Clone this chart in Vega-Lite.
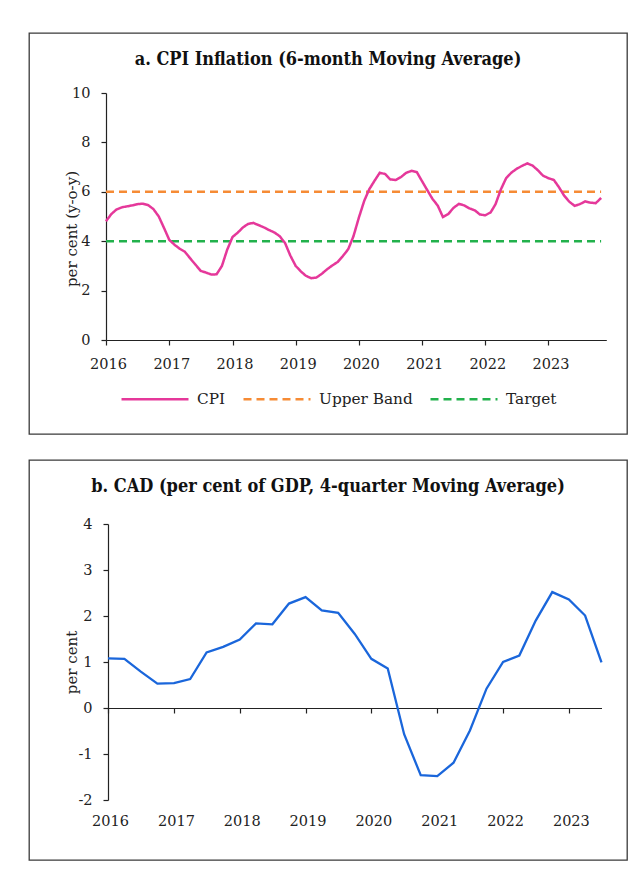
{
  "$schema": "https://vega.github.io/schema/vega-lite/v6.json",
  "padding": {"left": 28, "top": 32, "right": 7, "bottom": 19},
  "autosize": {"type": "pad"},
  "spacing": 24,
  "config": {
    "font": "DejaVu Serif",
    "view": {"stroke": "#3a3a3a", "strokeWidth": 1.3},
    "axis": {
      "grid": false,
      "labelFont": "DejaVu Serif",
      "labelFontSize": 14.5,
      "labelColor": "#222",
      "domainColor": "#222",
      "tickColor": "#222",
      "titleFont": "DejaVu Serif",
      "titleFontWeight": "normal",
      "titleFontSize": 15,
      "titleColor": "#222",
      "tickSize": 5,
      "domainWidth": 1.2,
      "tickWidth": 1.2
    },
    "title": {"font": "DejaVu Serif Condensed", "fontWeight": "bold", "fontSize": 18, "color": "#111"}
  },
  "resolve": {"scale": {"x": "independent", "y": "independent"}},
  "vconcat": [
    {
      "width": 598,
      "height": 401,
      "title": {"text": "a. CPI Inflation (6-month Moving Average)", "offset": -36},
      "layer": [
        {
          "data": {"values": [
            {"date": "2016-01-01", "value": 6, "series": "Upper Band"},
            {"date": "2023-11-01", "value": 6, "series": "Upper Band"},
            {"date": "2016-01-01", "value": 4, "series": "Target"},
            {"date": "2023-11-01", "value": 4, "series": "Target"}
          ]},
          "mark": {"type": "line", "strokeWidth": 2.5},
          "encoding": {
            "x": {"field": "date", "type": "temporal",
              "scale": {"type": "utc", "domain": [{"year": 2016, "month": 1, "date": 1, "utc": true}, {"year": 2023, "month": 12, "date": 1, "utc": true}], "range": [77, 577.3], "nice": false},
              "axis": {"format": "%Y", "tickCount": {"interval": "year", "step": 1}, "offset": -94, "title": null, "labelPadding": 12, "labelOffset": 2, "labelFlush": false, "labelOverlap": false}},
            "y": {"field": "value", "type": "quantitative",
              "scale": {"domain": [0, 10], "range": [307, 60], "nice": false, "zero": false},
              "axis": {"values": [0, 2, 4, 6, 8, 10], "offset": -77, "title": "per cent (y-o-y)", "titleX": -30, "titleY": 195.5, "titleAngle": -90, "titleAlign": "center", "titleBaseline": "alphabetic", "labelPadding": 11}},
            "color": {"field": "series", "type": "nominal",
              "scale": {"domain": ["CPI", "Upper Band", "Target"], "range": ["#E5389A", "#F68B35", "#22B14C"]},
              "legend": {"orient": "none", "legendX": 91, "legendY": 331, "direction": "horizontal", "title": null, "symbolType": "stroke", "symbolSize": 4489, "symbolStrokeWidth": 2.5, "labelFont": "DejaVu Serif", "labelFontSize": 15.3, "labelColor": "#222", "labelOffset": 7, "columnPadding": 12}},
            "strokeDash": {"field": "series", "type": "nominal",
              "scale": {"domain": ["CPI", "Upper Band", "Target"], "range": [[1, 0], [8, 5], [8, 5]]},
              "legend": {"orient": "none", "legendX": 91, "legendY": 331, "direction": "horizontal", "title": null, "symbolType": "stroke", "symbolSize": 4489, "symbolStrokeWidth": 2.5, "labelFont": "DejaVu Serif", "labelFontSize": 15.3, "labelColor": "#222", "labelOffset": 7, "columnPadding": 12}}
          }
        },
        {
          "data": {"values": [
            {"date": "2016-01-01", "value": 4.81, "series": "CPI"},
            {"date": "2016-02-01", "value": 5.10, "series": "CPI"},
            {"date": "2016-03-01", "value": 5.28, "series": "CPI"},
            {"date": "2016-04-01", "value": 5.37, "series": "CPI"},
            {"date": "2016-05-01", "value": 5.41, "series": "CPI"},
            {"date": "2016-06-01", "value": 5.45, "series": "CPI"},
            {"date": "2016-07-01", "value": 5.50, "series": "CPI"},
            {"date": "2016-08-01", "value": 5.52, "series": "CPI"},
            {"date": "2016-09-01", "value": 5.46, "series": "CPI"},
            {"date": "2016-10-01", "value": 5.30, "series": "CPI"},
            {"date": "2016-11-01", "value": 5.00, "series": "CPI"},
            {"date": "2016-12-01", "value": 4.54, "series": "CPI"},
            {"date": "2017-01-01", "value": 4.05, "series": "CPI"},
            {"date": "2017-02-01", "value": 3.85, "series": "CPI"},
            {"date": "2017-03-01", "value": 3.70, "series": "CPI"},
            {"date": "2017-04-01", "value": 3.57, "series": "CPI"},
            {"date": "2017-05-01", "value": 3.31, "series": "CPI"},
            {"date": "2017-06-01", "value": 3.05, "series": "CPI"},
            {"date": "2017-07-01", "value": 2.80, "series": "CPI"},
            {"date": "2017-08-01", "value": 2.73, "series": "CPI"},
            {"date": "2017-09-01", "value": 2.65, "series": "CPI"},
            {"date": "2017-10-01", "value": 2.66, "series": "CPI"},
            {"date": "2017-11-01", "value": 3.00, "series": "CPI"},
            {"date": "2017-12-01", "value": 3.65, "series": "CPI"},
            {"date": "2018-01-01", "value": 4.17, "series": "CPI"},
            {"date": "2018-02-01", "value": 4.35, "series": "CPI"},
            {"date": "2018-03-01", "value": 4.55, "series": "CPI"},
            {"date": "2018-04-01", "value": 4.70, "series": "CPI"},
            {"date": "2018-05-01", "value": 4.74, "series": "CPI"},
            {"date": "2018-06-01", "value": 4.65, "series": "CPI"},
            {"date": "2018-07-01", "value": 4.56, "series": "CPI"},
            {"date": "2018-08-01", "value": 4.45, "series": "CPI"},
            {"date": "2018-09-01", "value": 4.35, "series": "CPI"},
            {"date": "2018-10-01", "value": 4.20, "series": "CPI"},
            {"date": "2018-11-01", "value": 3.92, "series": "CPI"},
            {"date": "2018-12-01", "value": 3.42, "series": "CPI"},
            {"date": "2019-01-01", "value": 3.00, "series": "CPI"},
            {"date": "2019-02-01", "value": 2.77, "series": "CPI"},
            {"date": "2019-03-01", "value": 2.60, "series": "CPI"},
            {"date": "2019-04-01", "value": 2.50, "series": "CPI"},
            {"date": "2019-05-01", "value": 2.53, "series": "CPI"},
            {"date": "2019-06-01", "value": 2.68, "series": "CPI"},
            {"date": "2019-07-01", "value": 2.86, "series": "CPI"},
            {"date": "2019-08-01", "value": 3.02, "series": "CPI"},
            {"date": "2019-09-01", "value": 3.16, "series": "CPI"},
            {"date": "2019-10-01", "value": 3.40, "series": "CPI"},
            {"date": "2019-11-01", "value": 3.68, "series": "CPI"},
            {"date": "2019-12-01", "value": 4.20, "series": "CPI"},
            {"date": "2020-01-01", "value": 4.95, "series": "CPI"},
            {"date": "2020-02-01", "value": 5.63, "series": "CPI"},
            {"date": "2020-03-01", "value": 6.10, "series": "CPI"},
            {"date": "2020-04-01", "value": 6.45, "series": "CPI"},
            {"date": "2020-05-01", "value": 6.77, "series": "CPI"},
            {"date": "2020-06-01", "value": 6.72, "series": "CPI"},
            {"date": "2020-07-01", "value": 6.50, "series": "CPI"},
            {"date": "2020-08-01", "value": 6.48, "series": "CPI"},
            {"date": "2020-09-01", "value": 6.60, "series": "CPI"},
            {"date": "2020-10-01", "value": 6.77, "series": "CPI"},
            {"date": "2020-11-01", "value": 6.85, "series": "CPI"},
            {"date": "2020-12-01", "value": 6.80, "series": "CPI"},
            {"date": "2021-01-01", "value": 6.42, "series": "CPI"},
            {"date": "2021-02-01", "value": 6.05, "series": "CPI"},
            {"date": "2021-03-01", "value": 5.72, "series": "CPI"},
            {"date": "2021-04-01", "value": 5.44, "series": "CPI"},
            {"date": "2021-05-01", "value": 4.98, "series": "CPI"},
            {"date": "2021-06-01", "value": 5.10, "series": "CPI"},
            {"date": "2021-07-01", "value": 5.35, "series": "CPI"},
            {"date": "2021-08-01", "value": 5.51, "series": "CPI"},
            {"date": "2021-09-01", "value": 5.45, "series": "CPI"},
            {"date": "2021-10-01", "value": 5.33, "series": "CPI"},
            {"date": "2021-11-01", "value": 5.25, "series": "CPI"},
            {"date": "2021-12-01", "value": 5.08, "series": "CPI"},
            {"date": "2022-01-01", "value": 5.05, "series": "CPI"},
            {"date": "2022-02-01", "value": 5.17, "series": "CPI"},
            {"date": "2022-03-01", "value": 5.50, "series": "CPI"},
            {"date": "2022-04-01", "value": 6.10, "series": "CPI"},
            {"date": "2022-05-01", "value": 6.55, "series": "CPI"},
            {"date": "2022-06-01", "value": 6.78, "series": "CPI"},
            {"date": "2022-07-01", "value": 6.93, "series": "CPI"},
            {"date": "2022-08-01", "value": 7.05, "series": "CPI"},
            {"date": "2022-09-01", "value": 7.15, "series": "CPI"},
            {"date": "2022-10-01", "value": 7.06, "series": "CPI"},
            {"date": "2022-11-01", "value": 6.87, "series": "CPI"},
            {"date": "2022-12-01", "value": 6.65, "series": "CPI"},
            {"date": "2023-01-01", "value": 6.55, "series": "CPI"},
            {"date": "2023-02-01", "value": 6.48, "series": "CPI"},
            {"date": "2023-03-01", "value": 6.20, "series": "CPI"},
            {"date": "2023-04-01", "value": 5.85, "series": "CPI"},
            {"date": "2023-05-01", "value": 5.60, "series": "CPI"},
            {"date": "2023-06-01", "value": 5.43, "series": "CPI"},
            {"date": "2023-07-01", "value": 5.50, "series": "CPI"},
            {"date": "2023-08-01", "value": 5.61, "series": "CPI"},
            {"date": "2023-09-01", "value": 5.56, "series": "CPI"},
            {"date": "2023-10-01", "value": 5.54, "series": "CPI"},
            {"date": "2023-11-01", "value": 5.75, "series": "CPI"}
          ]},
          "mark": {"type": "line", "strokeWidth": 2.5},
          "encoding": {
            "x": {"field": "date", "type": "temporal"},
            "y": {"field": "value", "type": "quantitative"},
            "color": {"field": "series", "type": "nominal",
              "legend": {"orient": "none", "legendX": 91, "legendY": 331, "direction": "horizontal", "title": null, "symbolType": "stroke", "symbolSize": 4489, "symbolStrokeWidth": 2.5, "labelFont": "DejaVu Serif", "labelFontSize": 15.3, "labelColor": "#222", "labelOffset": 7, "columnPadding": 12}},
            "strokeDash": {"field": "series", "type": "nominal",
              "legend": {"orient": "none", "legendX": 91, "legendY": 331, "direction": "horizontal", "title": null, "symbolType": "stroke", "symbolSize": 4489, "symbolStrokeWidth": 2.5, "labelFont": "DejaVu Serif", "labelFontSize": 15.3, "labelColor": "#222", "labelOffset": 7, "columnPadding": 12}}
          }
        }
      ]
    },
    {
      "width": 598,
      "height": 400,
      "title": {"text": "b. CAD (per cent of GDP, 4-quarter Moving Average)", "offset": -36},
      "data": {"values": [
        {"date": "2016-01-01", "value": 1.08},
        {"date": "2016-04-01", "value": 1.07},
        {"date": "2016-07-01", "value": 0.79},
        {"date": "2016-10-01", "value": 0.53},
        {"date": "2017-01-01", "value": 0.54},
        {"date": "2017-04-01", "value": 0.63},
        {"date": "2017-07-01", "value": 1.21},
        {"date": "2017-10-01", "value": 1.33},
        {"date": "2018-01-01", "value": 1.49},
        {"date": "2018-04-01", "value": 1.84},
        {"date": "2018-07-01", "value": 1.82},
        {"date": "2018-10-01", "value": 2.27},
        {"date": "2019-01-01", "value": 2.41},
        {"date": "2019-04-01", "value": 2.12},
        {"date": "2019-07-01", "value": 2.07},
        {"date": "2019-10-01", "value": 1.61},
        {"date": "2020-01-01", "value": 1.07},
        {"date": "2020-04-01", "value": 0.86},
        {"date": "2020-07-01", "value": -0.57},
        {"date": "2020-10-01", "value": -1.46},
        {"date": "2021-01-01", "value": -1.48},
        {"date": "2021-04-01", "value": -1.19},
        {"date": "2021-07-01", "value": -0.49},
        {"date": "2021-10-01", "value": 0.42},
        {"date": "2022-01-01", "value": 1.00},
        {"date": "2022-04-01", "value": 1.14},
        {"date": "2022-07-01", "value": 1.90},
        {"date": "2022-10-01", "value": 2.52},
        {"date": "2023-01-01", "value": 2.36},
        {"date": "2023-04-01", "value": 2.01},
        {"date": "2023-07-01", "value": 0.99}
      ]},
      "resolve": {"axis": {"x": "independent"}},
      "layer": [
        {
          "mark": {"type": "line", "color": "#1A66DB", "strokeWidth": 2.3},
          "encoding": {
            "x": {"field": "date", "type": "temporal",
              "scale": {"type": "utc", "domain": [{"year": 2016, "month": 1, "date": 1, "utc": true}, {"year": 2023, "month": 7, "date": 1, "utc": true}], "range": [79, 572.5], "nice": false},
              "axis": {"orient": "bottom", "format": "%Y", "tickCount": {"interval": "year", "step": 1}, "offset": -152, "title": null, "labels": false}},
            "y": {"field": "value", "type": "quantitative",
              "scale": {"domain": [-2, 4], "range": [340, 64], "nice": false, "zero": false},
              "axis": {"values": [-2, -1, 0, 1, 2, 3, 4], "offset": -79, "title": "per cent", "titleX": -32, "titleY": 202, "titleAngle": -90, "titleAlign": "center", "titleBaseline": "alphabetic", "labelPadding": 11, "labelExpr": "datum.value < 0 ? '-' + abs(datum.value) : '' + datum.value"}}
          }
        },
        {
          "mark": {"type": "line", "opacity": 0},
          "encoding": {
            "x": {"field": "date", "type": "temporal",
              "axis": {"orient": "bottom", "format": "%Y", "tickCount": {"interval": "year", "step": 1}, "offset": -60, "title": null, "domain": false, "ticks": false, "labelPadding": 14, "labelOffset": 2, "labelFlush": false, "labelOverlap": false}},
            "y": {"field": "value", "type": "quantitative"}
          }
        }
      ]
    }
  ]
}
